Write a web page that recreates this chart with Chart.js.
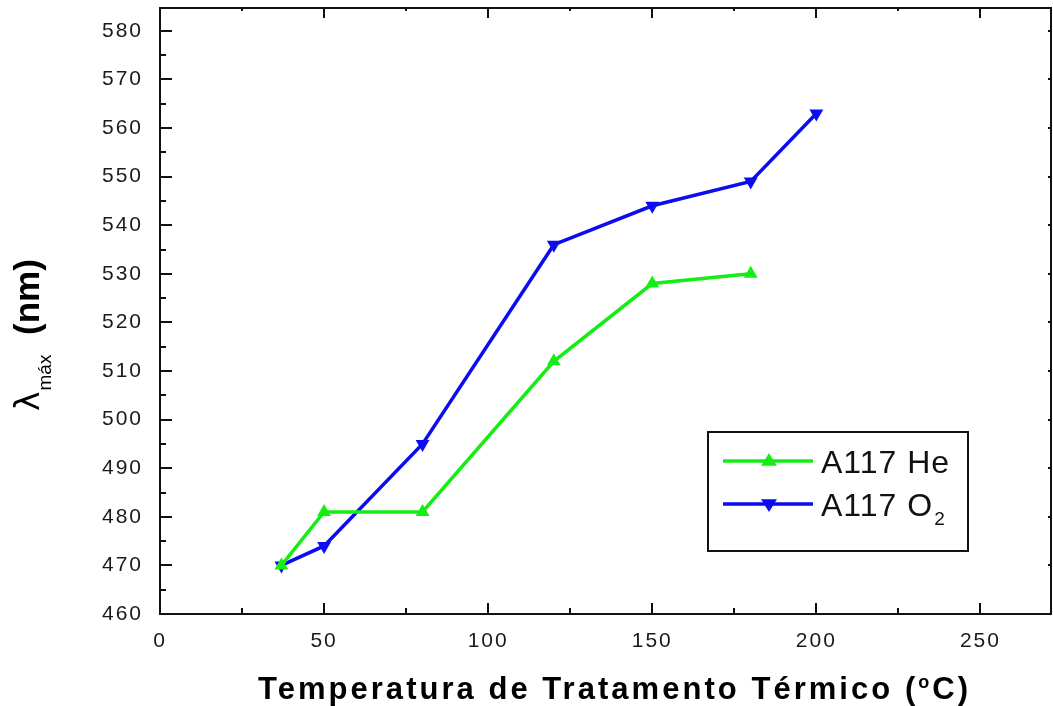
<!DOCTYPE html>
<html>
<head>
<meta charset="utf-8">
<script src="https://cdn.jsdelivr.net/npm/chart.js@4.4.1/dist/chart.umd.min.js"></script>
<style>
  html, body { margin: 0; padding: 0; background: #fff; }
  #wrap { width: 1053px; height: 706px; }
</style>
</head>
<body>
<div id="wrap"><canvas id="c" width="1053" height="706"></canvas></div>
<script>
// Treatment temperature (ºC) and wavelength of maximum (nm)
const heTemps = [37, 50, 80, 120, 150, 180];
const heLambda = [470, 481, 481, 512, 528, 530];
const o2Temps = [37, 50, 80, 120, 150, 180, 200];
const o2Lambda = [470, 474, 495, 536, 544, 549, 563];

const xTickValues = [0, 50, 100, 150, 200, 250];
const xMinorValues = [25, 75, 125, 175, 225];
const yTickValues = [460, 470, 480, 490, 500, 510, 520, 530, 540, 550, 560, 570, 580];
const yMinorValues = [465, 475, 485, 495, 505, 515, 525, 535, 545, 555, 565, 575];

const seriesNames = ['A117 He', 'A117 O'];
const xTitleMain = 'Temperatura de Tratamento Térmico (';
const xTitleSup = 'o';
const xTitleEnd = 'C)';

const GREEN = '#14ee14';
const BLUE = '#0c0cf0';

const toPoints = (xs, ys) => xs.map((x, i) => ({ x: x, y: ys[i] }));

// spaced-out tick lettering
const spacingPlugin = {
  id: 'spacing',
  beforeDraw(chart) { chart.ctx.letterSpacing = '2px'; },
  beforeDatasetsDraw(chart) { chart.ctx.letterSpacing = '0px'; }
};

const framePlugin = {
  id: 'frame',
  afterDraw(chart) {
    const { ctx, chartArea: a, scales } = chart;
    const xs = scales.x, ys = scales.y;
    ctx.save();
    ctx.letterSpacing = '0px';
    ctx.strokeStyle = '#111';
    ctx.lineWidth = 2;
    ctx.strokeRect(a.left, a.top, a.right - a.left, a.bottom - a.top);

    // inward ticks on all four sides
    ctx.beginPath();
    xTickValues.forEach(v => {
      const p = Math.round(xs.getPixelForValue(v));
      ctx.moveTo(p, a.bottom); ctx.lineTo(p, a.bottom - 11);
      ctx.moveTo(p, a.top); ctx.lineTo(p, a.top + 10);
    });
    xMinorValues.forEach(v => {
      const p = Math.round(xs.getPixelForValue(v));
      ctx.moveTo(p, a.bottom); ctx.lineTo(p, a.bottom - 6);
      ctx.moveTo(p, a.top); ctx.lineTo(p, a.top + 3);
    });
    yTickValues.forEach(v => {
      const p = Math.round(ys.getPixelForValue(v));
      ctx.moveTo(a.left, p); ctx.lineTo(a.left + 12, p);
      ctx.moveTo(a.right, p); ctx.lineTo(a.right - 3, p);
    });
    yMinorValues.forEach(v => {
      const p = Math.round(ys.getPixelForValue(v));
      ctx.moveTo(a.left, p); ctx.lineTo(a.left + 6, p);
    });
    ctx.stroke();

    // x axis title, bold and widely tracked
    ctx.fillStyle = '#000';
    ctx.textBaseline = 'alphabetic';
    ctx.textAlign = 'left';
    const bigFont = 'bold 31px "Liberation Sans Narrow", "Liberation Sans", sans-serif';
    const supFont = 'bold 18px "Liberation Sans Narrow", "Liberation Sans", sans-serif';
    const startX = 258, endX = 968, base = 699;
    ctx.font = bigFont;
    const wMain = ctx.measureText(xTitleMain).width;
    const wEnd = ctx.measureText(xTitleEnd).width;
    ctx.font = supFont;
    const wSup = ctx.measureText(xTitleSup).width;
    const nGaps = xTitleMain.length + 1 + xTitleEnd.length - 1;
    const sp = (endX - startX - wMain - wEnd - wSup) / nGaps;
    ctx.font = bigFont;
    ctx.letterSpacing = sp + 'px';
    ctx.fillText(xTitleMain, startX, base);
    let cx = startX + wMain + sp * xTitleMain.length;
    ctx.font = supFont;
    ctx.fillText(xTitleSup, cx, base - 11);
    cx += wSup + sp;
    ctx.font = bigFont;
    ctx.fillText(xTitleEnd, cx, base);
    ctx.letterSpacing = '0px';

    // y axis title: λ with subscript "máx", then (nm)
    ctx.save();
    ctx.translate(39, 411);
    ctx.rotate(-Math.PI / 2);
    ctx.textAlign = 'left';
    ctx.font = '33px "DejaVu Sans", sans-serif';
    ctx.fillText('λ', 0, 0);
    const off = ctx.measureText('λ').width + 1;
    ctx.font = '19px "Liberation Sans", sans-serif';
    ctx.fillText('máx', off, 12);
    ctx.font = 'bold 35px "Liberation Sans", sans-serif';
    ctx.fillText('(nm)', 76, 0);
    ctx.restore();

    // legend
    const lx = 708, ly = 432, lw = 260, lh = 119;
    ctx.fillStyle = '#fff';
    ctx.fillRect(lx, ly, lw, lh);
    ctx.strokeStyle = '#111';
    ctx.lineWidth = 2;
    ctx.strokeRect(lx, ly, lw, lh);
    const rows = [
      { y: 461, color: GREEN, up: true },
      { y: 504, color: BLUE, up: false }
    ];
    rows.forEach((r, i) => {
      ctx.strokeStyle = r.color;
      ctx.lineWidth = 3.5;
      ctx.beginPath();
      ctx.moveTo(723, r.y); ctx.lineTo(813, r.y);
      ctx.stroke();
      ctx.fillStyle = r.color;
      ctx.beginPath();
      const s = 8, mx = 769;
      if (r.up) {
        ctx.moveTo(mx, r.y - s); ctx.lineTo(mx + s, r.y + s * 0.6); ctx.lineTo(mx - s, r.y + s * 0.6);
      } else {
        ctx.moveTo(mx, r.y + s); ctx.lineTo(mx + s, r.y - s * 0.6); ctx.lineTo(mx - s, r.y - s * 0.6);
      }
      ctx.closePath();
      ctx.fill();
      ctx.fillStyle = '#111';
      ctx.font = '32px "Liberation Sans", sans-serif';
      ctx.letterSpacing = '1px';
      ctx.fillText(seriesNames[i], 821, r.y + 12);
      if (i === 1) {
        const wn = ctx.measureText(seriesNames[i]).width;
        ctx.font = '19px "Liberation Sans", sans-serif';
        ctx.fillText('2', 821 + wn + 1, r.y + 21);
      }
      ctx.letterSpacing = '0px';
    });
    ctx.restore();
  }
};

new Chart(document.getElementById('c'), {
  type: 'scatter',
  data: {
    datasets: [
      {
        label: seriesNames[0],
        data: toPoints(heTemps, heLambda),
        showLine: true,
        borderColor: GREEN,
        backgroundColor: GREEN,
        borderWidth: 3.5,
        pointStyle: 'triangle',
        pointRadius: 8,
        pointBorderWidth: 0,
        tension: 0
      },
      {
        label: seriesNames[1] + '2',
        data: toPoints(o2Temps, o2Lambda),
        showLine: true,
        borderColor: BLUE,
        backgroundColor: BLUE,
        borderWidth: 3.5,
        pointStyle: 'triangle',
        pointRotation: 180,
        pointRadius: 8,
        pointBorderWidth: 0,
        tension: 0
      }
    ]
  },
  options: {
    responsive: false,
    animation: false,
    devicePixelRatio: 1,
    layout: { autoPadding: false, padding: { left: 0, top: 8, right: 2, bottom: 0 } },
    plugins: { legend: { display: false }, tooltip: { enabled: false } },
    scales: {
      x: {
        type: 'linear',
        min: 0,
        max: 271.5,
        grid: { display: false },
        border: { display: false },
        afterFit(scale) {
          scale.height = 92;
          scale.paddingLeft = 0; scale.paddingRight = 0;
        },
        afterBuildTicks(scale) { scale.ticks = xTickValues.map(v => ({ value: v })); },
        ticks: {
          color: '#1a1a1a',
          padding: 7,
          maxRotation: 0,
          autoSkip: false,
          font: { family: '"Liberation Sans", sans-serif', size: 21 }
        }
      },
      y: {
        type: 'linear',
        min: 460,
        max: 584.7,
        grid: { display: false },
        border: { display: false },
        afterFit(scale) {
          scale.width = 160;
          scale.paddingTop = 0; scale.paddingBottom = 0;
        },
        afterBuildTicks(scale) { scale.ticks = yTickValues.map(v => ({ value: v })); },
        ticks: {
          color: '#1a1a1a',
          padding: 9,
          autoSkip: false,
          font: { family: '"Liberation Sans", sans-serif', size: 21 }
        }
      }
    }
  },
  plugins: [spacingPlugin, framePlugin]
});
</script>
</body>
</html>
